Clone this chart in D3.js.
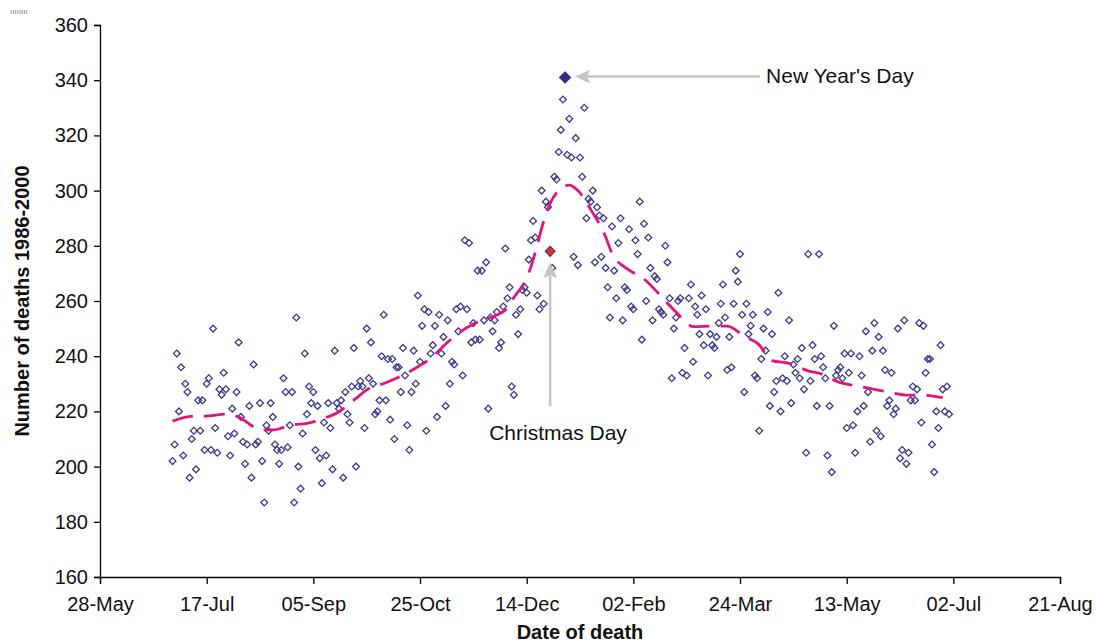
<!DOCTYPE html>
<html><head><meta charset="utf-8">
<script src="https://cdn.jsdelivr.net/npm/d3@7"></script>
<style>
body{margin:0;background:#fff}
svg{display:block}
text{font-family:"Liberation Sans",Arial,Helvetica,sans-serif}
</style>
</head><body>
<svg id="chart" width="1096" height="644"></svg>
<script>
// ---------------- data ----------------
const firstDay = "2001-07-01";   // 1 July ... 30 June (365 days)
const lastDayExcl = "2002-07-01";

const deaths = [
  // Jul - mid Sep
  202,208,241,220,236,204,230,227,196,210,213,199,224,213,224,206,230,232,206,250,
  214,205,228,226,234,228,211,204,221,212,227,245,218,209,201,208,222,196,237,208,
  209,223,202,187,215,213,223,218,208,206,201,206,232,227,207,215,227,187,254,200,
  192,212,241,219,229,223,227,206,222,203,194,216,
  // mid Sep - late Nov
  204,223,214,199,242,223,221,224,196,227,219,216,229,243,200,229,231,229,214,250,
  232,245,230,219,220,224,240,255,224,239,217,239,210,236,236,227,243,233,215,206,
  227,242,230,262,238,251,257,213,256,241,244,251,218,255,241,247,222,253,230,238,
  237,257,249,258,233,282,257,281,245,252,246,271,
  // late Nov - 24 Dec
  246,271,253,274,221,254,249,253,256,243,245,258,279,261,265,229,226,255,248,257,
  264,265,263,275,282,289,283,262,257,300,259,296,294,
  // 25 Dec (Christmas)
  278,
  // 26 - 31 Dec
  272,305,304,314,322,333,
  // 1 Jan (New Year)
  341,
  // 2 Jan - early Feb
  313,326,312,276,319,273,312,305,330,290,297,296,300,274,294,291,276,290,272,265,
  254,287,271,261,281,290,253,265,264,286,258,257,
  // early Feb - mid Apr
  282,277,296,246,288,260,283,272,253,269,268,257,256,255,280,274,261,232,250,254,
  260,261,234,243,233,261,266,238,258,255,248,262,244,257,233,248,244,243,247,252,
  259,266,254,235,247,236,259,271,267,277,255,227,259,248,251,255,233,232,213,239,
  250,242,256,222,248,227,231,263,220,232,240,231,253,223,237,
  // mid Apr - 30 Jun
  234,239,232,243,228,205,277,231,244,239,222,277,240,236,232,204,222,198,251,233,
  235,236,232,241,214,234,241,215,205,220,240,233,222,249,227,209,242,252,213,247,
  211,242,235,222,224,234,219,221,250,203,206,253,201,205,224,229,224,228,252,216,
  251,234,239,239,208,198,220,214,244,228,220,229,219
];

// smoothed (moving-average) curve
const trendDates = ["2001-07-01","2001-07-11","2001-07-17","2001-07-27","2001-07-31","2001-08-12","2001-08-17",
  "2001-08-26","2001-09-02","2001-09-10","2001-09-17","2001-09-25","2001-09-30","2001-10-09","2001-10-16",
  "2001-10-24","2001-10-30","2001-11-06","2001-11-11","2001-11-19","2001-11-26","2001-12-05","2001-12-08",
  "2001-12-14","2001-12-19","2001-12-21","2001-12-25","2001-12-30","2002-01-03","2002-01-07","2002-01-13",
  "2002-01-20","2002-01-23","2002-01-31","2002-02-06","2002-02-13","2002-02-18","2002-02-25","2002-03-02",
  "2002-03-12","2002-03-18","2002-03-26","2002-04-02","2002-04-08","2002-04-16","2002-04-25","2002-05-01",
  "2002-05-10","2002-05-17","2002-05-26","2002-06-01","2002-06-11","2002-06-17","2002-06-27"];
const trendValues = [216.5,218.3,218.3,219.1,218.3,213.3,213.3,
  215.1,215.7,217.5,219.9,224.7,227.8,230.4,232.8,
  236.2,239.2,244.4,247.7,251.7,253.7,257.4,261.3,
  268.2,280.3,286.3,295.4,300.6,302.0,300.0,293.2,
  283.3,277.3,271.2,268.6,263.4,259.2,253.7,250.7,
  250.9,250.9,247.3,244.1,238.4,237.4,234.7,233.6,
  230.4,229.3,228.0,227.1,225.9,225.9,225.0];

const xTickDates = ["2001-05-28","2001-07-17","2001-09-05","2001-10-25","2001-12-14",
  "2002-02-02","2002-03-24","2002-05-13","2002-07-02","2002-08-21"];
const yTicks = [160,180,200,220,240,260,280,300,320,340,360];
const christmasDate = "2001-12-25";
const newYearDate = "2002-01-01";
const xTitle = "Date of death";
const yTitle = "Number of deaths 1986-2000";
const nyLabel = "New Year's Day";
const xmasLabel = "Christmas Day";

// ---------------- chart ----------------
const parse = d3.utcParse("%Y-%m-%d");
const days = d3.utcDay.range(parse(firstDay), parse(lastDayExcl));
const points = days.map((d, i) => ({date: d, value: deaths[i]}));
const trend = trendDates.map((d, i) => ({date: parse(d), value: trendValues[i]}));

const svg = d3.select("#chart");
const x = d3.scaleUtc().domain([parse(xTickDates[0]), parse(xTickDates[xTickDates.length-1])]).range([100, 1060]);
const y = d3.scaleLinear().domain([160, 360]).range([577, 25]);

const NAVY = "#3a3a90";
const FONT = 20;

// axes
const xAxis = d3.axisBottom(x).tickValues(xTickDates.map(parse))
  .tickFormat(d3.utcFormat("%d-%b")).tickSizeOuter(0).tickSize(7).tickPadding(13);
const gx = svg.append("g").attr("transform", "translate(0,577)").call(xAxis);
const yAxis = d3.axisLeft(y).tickValues(yTicks).tickSizeOuter(0).tickSize(6).tickPadding(6);
const gy = svg.append("g").attr("transform", "translate(100,0)").call(yAxis);
[gx, gy].forEach(g => {
  g.selectAll("path.domain").attr("stroke", "#000").attr("stroke-width", 1.3);
  g.selectAll(".tick line").attr("stroke", "#000").attr("stroke-width", 1.3);
  g.selectAll(".tick text").attr("font-size", FONT).attr("fill", "#111")
    .attr("font-family", "'Liberation Sans', Arial, sans-serif");
});

// axis titles
svg.append("text").attr("x", 580).attr("y", 639).attr("text-anchor", "middle")
  .attr("font-size", FONT).attr("font-weight", "bold").attr("fill", "#111").text(xTitle);
svg.append("text").attr("transform", "translate(29,301) rotate(-90)").attr("text-anchor", "middle")
  .attr("font-size", FONT).attr("font-weight", "bold").attr("fill", "#111").text(yTitle);

// small artefact text top-left
svg.append("text").attr("x", 10).attr("y", 14).attr("font-size", 8).attr("fill", "#777").text("ıııııııı");

// points
const diamond = d3.symbol().type(d3.symbolSquare);
svg.append("g").selectAll("path").data(points).join("path")
  .attr("d", diamond.size(23)())
  .attr("transform", d => `translate(${x(d.date)},${y(d.value)}) rotate(45)`)
  .attr("fill", "none").attr("stroke", NAVY).attr("stroke-width", 1.3);

// trend line
const line = d3.line().x(d => x(d.date)).y(d => y(d.value)).curve(d3.curveMonotoneX);
svg.append("path").datum(trend).attr("d", line)
  .attr("fill", "none").attr("stroke", "#e2147c").attr("stroke-width", 2.8)
  .attr("stroke-dasharray", "21,11");

// highlighted days
const ny = points.find(p => +p.date === +parse(newYearDate));
const xm = points.find(p => +p.date === +parse(christmasDate));
svg.append("path").attr("d", d3.symbol().type(d3.symbolSquare).size(62)())
  .attr("transform", `translate(${x(ny.date)},${y(ny.value)}) rotate(45)`)
  .attr("fill", "#2b2b88").attr("stroke", "#2b2b88").attr("stroke-width", 1);
svg.append("path").attr("d", d3.symbol().type(d3.symbolSquare).size(52)())
  .attr("transform", `translate(${x(xm.date)},${y(xm.value)}) rotate(45)`)
  .attr("fill", "#e2311f").attr("stroke", NAVY).attr("stroke-width", 1);

// annotation arrows
const GREY = "#c6c6c6";
const nyx = x(ny.date), nyy = y(ny.value);
svg.append("line").attr("x1", nyx + 22).attr("x2", nyx + 195).attr("y1", nyy - 1).attr("y2", nyy - 1)
  .attr("stroke", GREY).attr("stroke-width", 2.6);
svg.append("path").attr("d", `M${nyx+10},${nyy-1} L${nyx+25},${nyy-8} L${nyx+22},${nyy-1} L${nyx+25},${nyy+6} Z`)
  .attr("fill", GREY);
svg.append("text").attr("x", nyx + 201).attr("y", nyy + 6).attr("font-size", FONT + 1).attr("fill", "#111").text(nyLabel);

const xmx = x(xm.date), xmy = y(xm.value);
svg.append("line").attr("x1", xmx).attr("x2", xmx).attr("y1", xmy + 24).attr("y2", xmy + 155)
  .attr("stroke", GREY).attr("stroke-width", 2.6);
svg.append("path").attr("d", `M${xmx},${xmy+11} L${xmx-7},${xmy+27} L${xmx},${xmy+24} L${xmx+7},${xmy+27} Z`)
  .attr("fill", GREY);
svg.append("text").attr("x", xmx - 61).attr("y", xmy + 189).attr("font-size", FONT + 1).attr("fill", "#111").text(xmasLabel);
</script>
</body></html>
